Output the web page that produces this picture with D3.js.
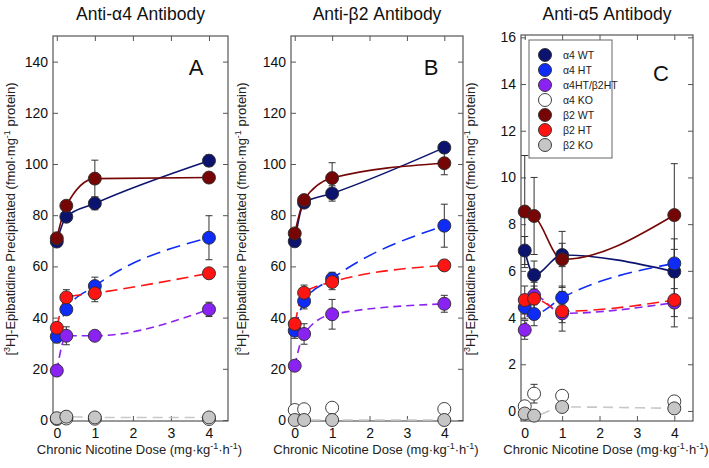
<!DOCTYPE html>
<html>
<head>
<meta charset="utf-8">
<script src="https://cdnjs.cloudflare.com/ajax/libs/d3/7.8.5/d3.min.js"></script>
<style>
  html, body { margin: 0; padding: 0; background: #fff; }
  svg { display: block; font-family: "Liberation Sans", Arial, sans-serif; }
</style>
</head>
<body>
<svg id="chart" width="709" height="468"></svg>
<script>
// ---------------- DATA ----------------
const doses = [0, 0.25, 1, 4];
const seriesNames = ["α4 WT", "α4 HT", "α4HT/β2HT", "α4 KO", "β2 WT", "β2 HT", "β2 KO"];
const panelTitles = ["Anti-α4 Antibody", "Anti-β2 Antibody", "Anti-α5 Antibody"];
const panelLetters = ["A", "B", "C"];
const xTickValues = [0, 1, 2, 3, 4];
const yTicksAB = [0, 20, 40, 60, 80, 100, 120, 140];
const yTicksC = [0, 2, 4, 6, 8, 10, 12, 14, 16];

const meansA = [
  [69.7, 79.4, 84.6, 101.3],
  [32.6, 43.2, 52.3, 71.2],
  [19.3, 32.9, 32.9, 43.2],
  [0.4, 0.6, 0.5, 0.4],
  [71.0, 83.7, 94.3, 94.7],
  [36.0, 47.9, 49.5, 57.3],
  [0.7, 1.3, 1.0, 1.0]
];
const errorsA = [
  [1.0, 1.5, 2.5, 2.2],
  [2.5, 2.0, 3.5, 8.6],
  [1.0, 3.5, 1.5, 2.8],
  [0, 0, 0, 0],
  [1.0, 1.5, 7.2, 0.5],
  [2.0, 3.0, 3.3, 1.5],
  [0.3, 0.3, 0.3, 0.3]
];
const meansB = [
  [69.8, 84.9, 88.5, 106.4],
  [34.9, 46.4, 55.2, 75.9],
  [21.2, 33.6, 41.3, 45.4],
  [3.9, 4.2, 4.8, 4.3],
  [72.9, 85.9, 94.5, 100.3],
  [37.5, 49.7, 53.9, 60.4],
  [0, 0, 0, 0]
];
const errorsB = [
  [1.0, 1.5, 3.0, 1.0],
  [3.0, 3.0, 2.5, 8.4],
  [1.0, 4.0, 5.8, 3.3],
  [0, 0, 0, 0],
  [1.0, 1.5, 6.0, 4.5],
  [2.0, 3.0, 3.0, 2.0],
  [0, 0, 0, 0]
];
const meansC = [
  [6.87, 5.82, 6.68, 5.97],
  [4.44, 4.15, 4.85, 6.32],
  [3.47, 4.95, 4.18, 4.64],
  [0.20, 0.74, 0.65, 0.41],
  [8.54, 8.35, 6.49, 8.39],
  [4.75, 4.81, 4.27, 4.75],
  [-0.11, -0.20, 0.17, 0.11]
];
const errorsC = [
  [0.6, 0.6, 0.5, 1.4],
  [0.5, 0.5, 0.5, 0.6],
  [0.4, 0.4, 0.4, 0.6],
  [0.1, 0.4, 0.1, 0.1],
  [2.4, 1.65, 1.2, 2.2],
  [0.6, 0.7, 0.85, 1.15],
  [0.05, 0.05, 0.05, 0.05]
];

// ---------------- STYLES ----------------
const fills = ["#0b136e", "#0f2cf7", "#8a22f2", "#ffffff", "#760606", "#ff1414", "#c6c6c6"];
const lineColors = ["#0b136e", "#0f2cf7", "#8a22f2", null, "#760606", "#ff1414", "#c8c8c8"];
const dashes = [null, "14,7", "8,5", null, null, "12,6", "10,6"];

const panels = [
  { means: meansA, errors: errorsA, x0: 53, x1: 228, yDomain: [0, 150], yRange: [420, 36], ticks: yTicksAB, frameBottom: 421, yLabelX: 11, letterY: 67 },
  { means: meansB, errors: errorsB, x0: 291, x1: 463, yDomain: [0, 150], yRange: [420, 36], ticks: yTicksAB, frameBottom: 421, yLabelX: 242, letterY: 67 },
  { means: meansC, errors: errorsC, x0: 521, x1: 693, yDomain: [-0.43, 16.1], yRange: [421, 35], ticks: yTicksC, frameBottom: 421, yLabelX: 471, letterY: 73 }
];

const svg = d3.select("#chart");
const R = 6.5;
const tickLen = 5;

panels.forEach((p, pi) => {
  const x = d3.scaleLinear().domain([-0.1, 4.5]).range([p.x0, p.x1]);
  const y = d3.scaleLinear().domain(p.yDomain).range(p.yRange);
  const g = svg.append("g");
  const top = p.yRange[1];
  const bottom = p.frameBottom;

  // frame
  g.append("rect").attr("x", p.x0).attr("y", top).attr("width", p.x1 - p.x0).attr("height", bottom - top)
    .attr("fill", "none").attr("stroke", "#555").attr("stroke-width", 1.2);

  // axes with inward ticks
  const yAxisL = d3.axisLeft(y).tickValues(p.ticks).tickSize(-tickLen).tickPadding(5).tickFormat(d3.format("d"));
  const yAxisR = d3.axisRight(y).tickValues(p.ticks).tickSize(-tickLen).tickFormat("");
  const xAxisB = d3.axisBottom(x).tickValues(xTickValues).tickSize(-tickLen).tickPadding(7).tickFormat(d3.format("d"));
  const xAxisT = d3.axisTop(x).tickValues(xTickValues).tickSize(-tickLen).tickFormat("");

  const styleAxis = sel => {
    sel.select(".domain").remove();
    sel.selectAll("line").attr("stroke", "#555").attr("stroke-width", 1);
    sel.selectAll("text").attr("fill", "#111").style("font-size", "14px").style("font-family", "Liberation Sans, Arial, sans-serif");
  };
  g.append("g").attr("transform", `translate(${p.x0},0)`).call(yAxisL).call(styleAxis);
  g.append("g").attr("transform", `translate(${p.x1},0)`).call(yAxisR).call(styleAxis);
  g.append("g").attr("transform", `translate(0,${bottom})`).call(xAxisB).call(styleAxis);
  g.append("g").attr("transform", `translate(0,${top})`).call(xAxisT).call(styleAxis);

  // title
  svg.append("text").attr("x", (p.x0 + p.x1) / 2).attr("y", 20).attr("text-anchor", "middle")
    .style("font-size", "17.5px").attr("fill", "#111").text(panelTitles[pi]);

  // panel letter
  g.append("text").attr("x", p.x1 - 32).attr("y", p.letterY + 8).attr("text-anchor", "middle")
    .style("font-size", "22px").attr("fill", "#111").text(panelLetters[pi]);

  // x label
  const xl = g.append("text").attr("x", (p.x0 + p.x1) / 2 - 1).attr("y", 454).attr("text-anchor", "middle")
    .style("font-size", "13px").attr("fill", "#222");
  xl.append("tspan").text("Chronic Nicotine Dose (mg·kg");
  xl.append("tspan").attr("dy", -5).style("font-size", "9px").text("-1");
  xl.append("tspan").attr("dy", 5).text("·h");
  xl.append("tspan").attr("dy", -5).style("font-size", "9px").text("-1");
  xl.append("tspan").attr("dy", 5).text(")");

  // y label
  const yl = g.append("text").attr("transform", `translate(${p.yLabelX + 4},219) rotate(-90)`).attr("text-anchor", "middle")
    .style("font-size", "13px").attr("fill", "#222");
  yl.append("tspan").text("[");
  yl.append("tspan").attr("dy", -5).style("font-size", "9px").text("3");
  yl.append("tspan").attr("dy", 5).text("H]-Epibatidine Precipitated (fmol·mg");
  yl.append("tspan").attr("dy", -5).style("font-size", "9px").text("-1");
  yl.append("tspan").attr("dy", 5).text(" protein)");

  // lines
  const lineGen = d3.line().x(d => x(d[0])).y(d => y(d[1])).curve(d3.curveMonotoneX);
  p.means.forEach((vals, si) => {
    if (!lineColors[si]) return;
    const pts = doses.map((d, i) => [d, vals[i]]);
    g.append("path").attr("d", lineGen(pts)).attr("fill", "none")
      .attr("stroke", lineColors[si]).attr("stroke-width", 1.6)
      .attr("stroke-dasharray", dashes[si]);
  });

  // error bars
  p.means.forEach((vals, si) => {
    doses.forEach((d, i) => {
      const e = p.errors[si][i];
      if (!e) return;
      const cx = x(d), y1 = y(vals[i] + e), y2 = y(vals[i] - e);
      g.append("line").attr("x1", cx).attr("x2", cx).attr("y1", y1).attr("y2", y2).attr("stroke", "#333").attr("stroke-width", 1);
      g.append("line").attr("x1", cx - 3.5).attr("x2", cx + 3.5).attr("y1", y1).attr("y2", y1).attr("stroke", "#333").attr("stroke-width", 1);
      g.append("line").attr("x1", cx - 3.5).attr("x2", cx + 3.5).attr("y1", y2).attr("y2", y2).attr("stroke", "#333").attr("stroke-width", 1);
    });
  });

  // markers
  p.means.forEach((vals, si) => {
    g.selectAll(null).data(doses.map((d, i) => [d, vals[i]])).enter().append("circle")
      .attr("cx", d => x(d[0])).attr("cy", d => y(d[1])).attr("r", R)
      .attr("fill", fills[si]).attr("stroke", "#2a2a2a").attr("stroke-width", 0.9);
  });

  // legend in panel C
  if (pi === 2) {
    const lg = g.append("g");
    lg.append("rect").attr("x", 529).attr("y", 40).attr("width", 83).attr("height", 118)
      .attr("fill", "#fff").attr("stroke", "#666").attr("stroke-width", 1);
    seriesNames.forEach((name, si) => {
      const ly = 55 + si * 15;
      lg.append("circle").attr("cx", 545).attr("cy", ly).attr("r", R).attr("fill", fills[si])
        .attr("stroke", "#2a2a2a").attr("stroke-width", 0.9);
      lg.append("text").attr("x", 563).attr("y", ly + 4).style("font-size", "10.5px").attr("fill", "#222").text(name);
    });
  }
});
</script>
</body>
</html>
